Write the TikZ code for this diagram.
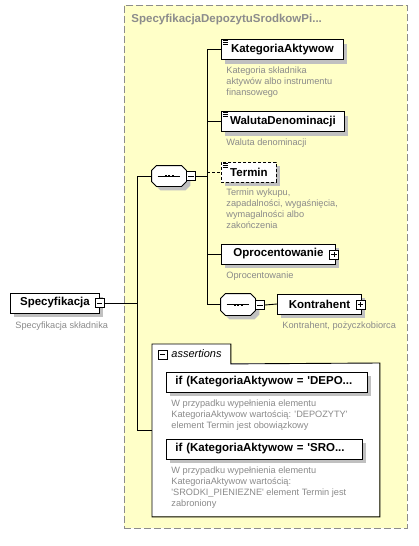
\documentclass[tikz,border=0pt]{standalone}
\usepackage{fontspec}
\setmainfont{Liberation Sans}
\usetikzlibrary{shadows}
\definecolor{bgyellow}{HTML}{FFFFC8}
\definecolor{framegray}{HTML}{8C8C8C}
\definecolor{descgray}{HTML}{8A8A8A}
\definecolor{shadegray}{HTML}{C0C0C0}

\newcommand{\q}{\textquotesingle}
\newcommand{\listmark}[1]{%
  \foreach \k in {1.5,3.5,5.5} {
    \draw[line width=0.8pt] ([shift={(2pt,-\k pt)}]#1.north west) -- ++(5pt,0);
  }}
% octagon of a sequence compositor, drawn round an empty node
\newcommand{\octpath}[3]{%
  ([shift={(#2+5pt,#3)}]#1.north west) -- ([shift={(#2-5pt,#3)}]#1.north east)
  -- ([shift={(#2,#3-5pt)}]#1.north east) -- ([shift={(#2,#3+5pt)}]#1.south east)
  -- ([shift={(#2-5pt,#3)}]#1.south east) -- ([shift={(#2+5pt,#3)}]#1.south west)
  -- ([shift={(#2,#3+5pt)}]#1.south west) -- ([shift={(#2,#3-5pt)}]#1.north west) -- cycle}
\newcommand{\seqmark}[1]{%
  \fill[shadegray] \octpath{#1}{4pt}{-4pt};
  \filldraw[fill=white] \octpath{#1}{0pt}{0pt};
  \draw ([xshift=6pt]#1.west) -- ([xshift=-6pt]#1.east);
  \foreach \d in {-4.5,-1,2.5} {
    \fill ([shift={(\d pt,-1pt)}]#1.center) rectangle ++(2pt,2pt);
  }}

\begin{document}
\begin{tikzpicture}[
  x=1pt, y=-1pt, line width=0.9pt,
  elem/.style={draw, fill=white, anchor=west, minimum height=20pt, inner xsep=6pt, inner ysep=0pt,
    font=\fontsize{11.5}{12}\selectfont\bfseries,
    drop shadow={shadow xshift=4pt, shadow yshift=-4pt, fill=shadegray, opacity=1}},
  rule/.style={elem, align=left, inner xsep=9pt},
  desc/.style={anchor=north west, inner sep=0pt, align=left, text=descgray,
    font=\fontsize{9.2}{11}\selectfont},
  pmbox/.style={draw, fill=white, minimum size=9pt, inner sep=0pt, line width=0.8pt},
  minus/.style={pmbox, path picture={
    \draw ([xshift=1.8pt]path picture bounding box.west) -- ([xshift=-1.8pt]path picture bounding box.east);}},
  plus/.style={pmbox, path picture={
    \draw ([xshift=1.8pt]path picture bounding box.west) -- ([xshift=-1.8pt]path picture bounding box.east);
    \draw ([yshift=-1.8pt]path picture bounding box.north) -- ([yshift=1.8pt]path picture bounding box.south);}},
  seq/.style={minimum width=34pt, minimum height=20pt, inner sep=0pt}
]
\useasboundingbox (0,0) rectangle (418,546);

% complex type frame
\node[draw=framegray, dash pattern=on 7pt off 3pt, fill=bgyellow, anchor=north west,
  minimum width=283pt, minimum height=523pt] (ctype) at (124,5) {};
\node[anchor=west, inner sep=0pt, text=framegray, font=\fontsize{11.5}{12}\selectfont\bfseries]
  (ctitle) at (131,20) {SpecyfikacjaDepozytuSrodkowPi...};

% root element
\node[elem, minimum width=89pt] (spec) at (10,303) {Specyfikacja};
\node[minus] (spm) at (99.5,303) {};
\node[desc] (specd) at (15,321) {Specyfikacja składnika};

% sequence
\node[seq] (seq1) at (169,176) {};
\seqmark{seq1}
\node[minus] (m1) at (191,176) {};

% children
\node[elem, minimum width=122pt] (kat) at (221,49.5) {KategoriaAktywow};
\node[desc] (katd) at (226,66) {Kategoria składnika\\aktywów albo instrumentu\\finansowego};

\node[elem, minimum width=123pt] (wal) at (221,121.5) {WalutaDenominacji};
\node[desc] (wald) at (226,138.5) {Waluta denominacji};

\node[elem, dash pattern=on 3pt off 2pt, minimum width=55pt] (term) at (221,172) {Termin};
\node[desc] (termd) at (226,188.5) {Termin wykupu,\\zapadalności, wygaśnięcia,\\wymagalności albo\\zakończenia};

\node[elem, minimum width=114pt] (opr) at (221,254) {Oprocentowanie};
\node[plus] (oprp) at (334,254.5) {};
\node[desc] (oprd) at (226,271.5) {Oprocentowanie};

\node[seq, minimum height=21pt] (seq2) at (238,304.5) {};
\seqmark{seq2}
\node[minus] (m2) at (260,305) {};
\node[elem, minimum width=84pt] (kon) at (277,304) {Kontrahent};
\node[plus] (konp) at (360.5,304.5) {};
\node[desc] (kond) at (282,321.5) {Kontrahent, pożyczkobiorca};

\listmark{kat}
\listmark{wal}
\listmark{term}

% assertions
\node[fill=white, anchor=north west, minimum width=78pt, minimum height=19pt, inner sep=0pt] (astab) at (152,344) {};
\node[fill=white, anchor=north west, minimum width=227pt, minimum height=153pt, inner sep=0pt] (asbody) at (152,363) {};
\draw (astab.south west) -- (astab.north west) -- (astab.north east) -- (astab.south east)
  -- (asbody.north east) -- (asbody.south east) -- (asbody.south west) -- cycle;
\node[minus] (asm) at (162.5,354.5) {};
\node[anchor=west, inner sep=0pt, font=\fontsize{11}{12}\selectfont\itshape] (aslabel) at (171,354) {assertions};

\node[rule, text width=183pt] (as1) at (166,382) {if (KategoriaAktywow = \q DEPO...};
\node[desc] (as1d) at (171,399.5) {W przypadku wypełnienia elementu\\KategoriaAktywow wartością: \q DEPOZYTY\q\\element Termin jest obowiązkowy};
\node[rule, text width=178pt] (as2) at (166,449) {if (KategoriaAktywow = \q SRO...};
\node[desc] (as2d) at (171,466.5) {W przypadku wypełnienia elementu\\KategoriaAktywow wartością:\\\q SRODKI\_PIENIEZNE\q{} element Termin jest\\zabroniony};

% connectors
\coordinate (trunk1) at (137,176);
\coordinate (trunk2) at (137,430);
\coordinate (branch1) at (207,49.5);
\coordinate (branch2) at (207,304.5);

\draw (spm.east) -- (spm.east -| trunk1);
\draw (seq1.west) -- (trunk1) -- (trunk2) -- (trunk2 -| asbody.west);
\draw (m1.east) -- (m1.east -| branch1);
\draw (branch1) -- (branch2) -- (seq2.west);
\foreach \n in {kat,wal,opr} {
  \draw (\n.west -| branch1) -- (\n.west);
}
\draw[dash pattern=on 3pt off 2pt] (term.west -| branch1) -- (term.west);
\draw (m2.east) -- (kon.west);

\end{tikzpicture}
\end{document}
